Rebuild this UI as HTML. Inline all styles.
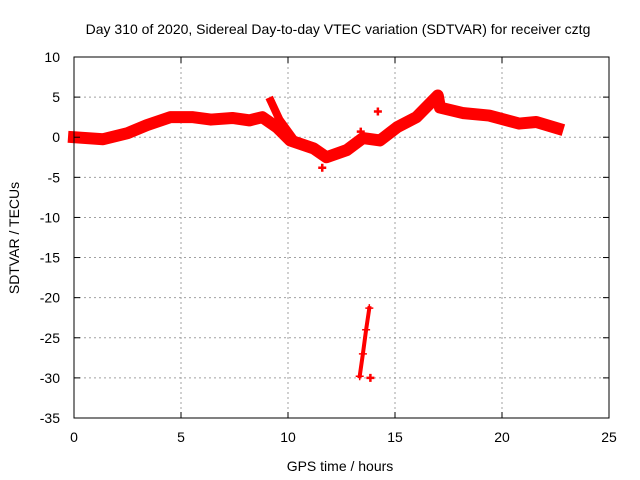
<!DOCTYPE html>
<html><head><meta charset="utf-8"><style>
body{margin:0;background:#fff}
svg{display:block;font-family:"Liberation Sans",sans-serif}
</style></head><body>
<svg id="chart" width="640" height="480">
<text x="338" y="34" font-size="14" text-anchor="middle">Day 310 of 2020, Sidereal Day-to-day VTEC variation (SDTVAR) for receiver cztg</text>
<text x="340" y="471" font-size="14" text-anchor="middle">GPS time / hours</text>
<text transform="translate(19,238) rotate(-90)" font-size="14" text-anchor="middle">SDTVAR / TECUs</text>
<g id="grid"></g><g id="marks"></g><g id="axes"></g>
</svg>
<script>
const xTicks=[0,5,10,15,20,25];
const yTicks=[10,5,0,-5,-10,-15,-20,-25,-30,-35];
const mainT=[0,1.36,2.5,3.4,4.5,5.56,6.4,7.4,8.2,8.8,9.5,10.1,11.2,11.8,12.75,13.5,14.3,15.1,16,17,17.1,18.2,19.4,20.8,21.6,22.6];
const mainV=[0,-0.25,0.5,1.5,2.5,2.5,2.2,2.4,2.1,2.5,1.2,-0.4,-1.4,-2.5,-1.6,-0.1,-0.4,1.25,2.5,5.2,3.7,3,2.7,1.7,1.9,1.1];
const spikeT=[9.2,9.6,10.2];
const spikeV=[4.5,2.2,0];
const dropT=[13.35,13.5,13.65,13.8];
const dropV=[-29.8,-27,-24,-21.3];
const isoT=[13.85,14.2,13.4,11.6];
const isoV=[-30,3.2,0.7,-3.8];
const X0=74,X1=609,Y0=57,Y1=418;
const xs=t=>X0+(t-0)/25*(X1-X0);
const ys=v=>Y0+(10-v)/45*(Y1-Y0);
const NS="http://www.w3.org/2000/svg";
function mk(tag,attrs,parent){const e=document.createElementNS(NS,tag);for(const k in attrs)e.setAttribute(k,attrs[k]);parent.appendChild(e);return e;}
const grid=document.getElementById('grid'),axes=document.getElementById('axes'),marks=document.getElementById('marks');
xTicks.forEach(t=>{const x=xs(t);
 if(t>0&&t<25){const g=mk('line',{x1:x,x2:x,y1:Y0,y2:Y1,stroke:'#a0a0a0','stroke-dasharray':'2,3'},grid);
 
 }
 mk('line',{x1:x,x2:x,y1:Y1,y2:Y1-6,stroke:'#000'},axes);
 mk('line',{x1:x,x2:x,y1:Y0,y2:Y0+6,stroke:'#000'},axes);
 const l=mk('text',{x:x,y:Y1+24,'font-size':14,'text-anchor':'middle'},axes);l.textContent=t;
 
 
});
yTicks.forEach(v=>{const y=ys(v);
 if(v<10&&v>-35){const g=mk('line',{x1:X0,x2:X1,y1:y,y2:y,stroke:'#a0a0a0','stroke-dasharray':'2,3'},grid);
 
 }
 mk('line',{x1:X0,x2:X0+6,y1:y,y2:y,stroke:'#000'},axes);
 mk('line',{x1:X1,x2:X1-6,y1:y,y2:y,stroke:'#000'},axes);
 const l=mk('text',{x:X0-14,y:y+5,'font-size':14,'text-anchor':'end'},axes);l.textContent=v;
 
 
});
const b=mk('rect',{x:X0,y:Y0,width:X1-X0,height:Y1-Y0,fill:'none',stroke:'#000'},axes);


function series(T,V,name,w){
 const p=mk('polyline',{points:T.map((t,i)=>xs(t)+','+ys(V[i])).join(' '),fill:'none',stroke:'#f00','stroke-width':w,'stroke-linejoin':'round','stroke-linecap':'square'},marks);
 
 
 T.forEach((t,i)=>{const x=xs(t),y=ys(V[i]);
  const m=mk('path',{d:`M${x-4},${y}h8M${x},${y-4}v8`,stroke:'#f00','stroke-width':1.5},marks);
  
  });
}
series(mainT,mainV,'sdtvar-main-series',12);
series(spikeT,spikeV,'sdtvar-spike-series',8);
series(dropT,dropV,'sdtvar-drop-series',4);
isoT.forEach((t,i)=>{const x=xs(t),y=ys(isoV[i]);
 const m=mk('path',{d:`M${x-4},${y}h8M${x},${y-4}v8`,stroke:'#f00','stroke-width':2.5},marks);
 
 });
</script>
</body></html>
